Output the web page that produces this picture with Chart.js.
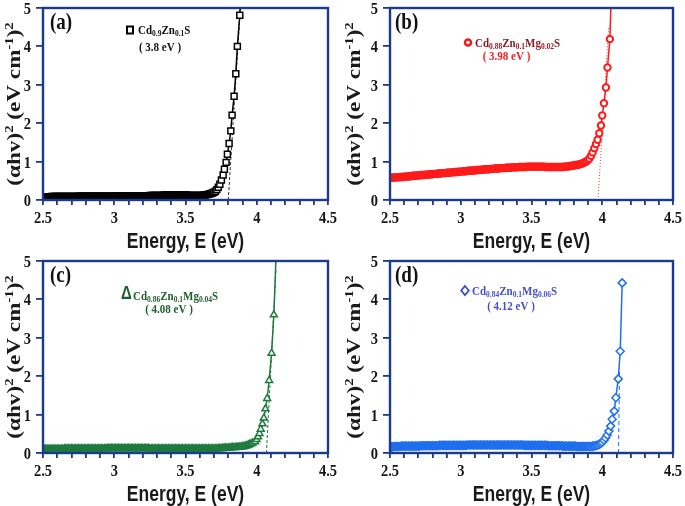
<!DOCTYPE html>
<html><head><meta charset="utf-8">
<script src="https://cdn.jsdelivr.net/npm/chart.js@4.4.0/dist/chart.umd.min.js"></script>
<style>
html,body{margin:0;padding:0;background:#fff;width:685px;height:506px;overflow:hidden}
canvas{position:absolute;background:#fff}
</style></head><body>
<canvas id="ca" width="340" height="253" style="left:0;top:0"></canvas>
<canvas id="cb" width="345" height="253" style="left:340px;top:0"></canvas>
<canvas id="cc" width="340" height="253" style="left:0;top:253px"></canvas>
<canvas id="cd" width="345" height="253" style="left:340px;top:253px"></canvas>
<script>
// ---------------- data ----------------
const xTickVals = [2.5, 3, 3.5, 4, 4.5];
const xTickText = ['2.5', '3', '3.5', '4', '4.5'];
const yTickVals = [0, 1, 2, 3, 4, 5];
const yTickText = ['0', '1', '2', '3', '4', '5'];

// shared photon-energy grid for the flat part of each curve (eV)
const gridE = [
 2.50,2.51,2.52,2.53,2.54,2.55,2.56,2.57,2.58,2.59,
 2.60,2.61,2.62,2.63,2.64,2.65,2.66,2.67,2.68,2.69,
 2.70,2.71,2.72,2.73,2.74,2.75,2.76,2.77,2.78,2.79,
 2.80,2.81,2.82,2.83,2.84,2.85,2.86,2.87,2.88,2.89,
 2.90,2.91,2.92,2.93,2.94,2.95,2.96,2.97,2.98,2.99,
 3.00,3.01,3.02,3.03,3.04,3.05,3.06,3.07,3.08,3.09,
 3.10,3.11,3.12,3.13,3.14,3.15,3.16,3.17,3.18,3.19,
 3.20,3.21,3.22,3.23,3.24,3.25,3.26,3.27,3.28,3.29,
 3.30,3.31,3.32,3.33,3.34,3.35,3.36,3.37,3.38,3.39,
 3.40,3.41,3.42,3.43,3.44,3.45,3.46,3.47,3.48,3.49,
 3.50,3.51,3.52,3.53,3.54,3.55,3.56,3.57,3.58,3.59,
 3.60,3.61,3.62,3.63,3.64,3.65,3.66,3.67,3.68,3.69,
 3.70,3.71,3.72,3.73,3.74,3.75,3.76,3.77,3.78,3.79,
 3.80,3.81,3.82,3.83,3.84,3.85,3.86,3.87,3.88,3.89];

// (a) Cd0.9Zn0.1S
const aFlatY = [
 0.08,0.08,0.08,0.08,0.08,0.08,0.09,0.09,0.09,0.09,
 0.09,0.09,0.09,0.09,0.09,0.09,0.09,0.09,0.09,0.09,
 0.09,0.09,0.09,0.09,0.09,0.10,0.10,0.10,0.10,0.10,
 0.10,0.10,0.10,0.10,0.10,0.10,0.10,0.10,0.10,0.10,
 0.10,0.10,0.10,0.10,0.10,0.10,0.10,0.10,0.10,0.10,
 0.10,0.10,0.10,0.10,0.10,0.11,0.11,0.11,0.11,0.11,
 0.11,0.11,0.11,0.11,0.11,0.11,0.11,0.11,0.11,0.11,
 0.11,0.11,0.11,0.11,0.11,0.12,0.12,0.12,0.12,0.12,
 0.12,0.12,0.12,0.12,0.12,0.13,0.13,0.13,0.13,0.13,
 0.13,0.13,0.13,0.13,0.13,0.13,0.13,0.13,0.13,0.13,
 0.13,0.13,0.12,0.12,0.12,0.12,0.12,0.12,0.12,0.12,
 0.12,0.12,0.12,0.13,0.13,0.14,0.15,0.16,0.17,0.18];
const aEdgeE = [3.70,3.71,3.72,3.73,3.741,3.752,3.764,3.773,3.785,3.794,3.806,3.818,3.827,3.841,3.853,3.864,3.881,3.895];
const aEdgeY = [0.20,0.23,0.27,0.33,0.41,0.52,0.65,0.80,0.98,1.19,1.47,1.80,2.21,2.70,3.29,4.00,4.81,5.90];
const aTanE = [3.80, 3.885];
const aTanY = [0, 5];

// (b) Cd0.88Zn0.1Mg0.02S
const bFlatY = [
 0.58,0.58,0.58,0.59,0.59,0.59,0.59,0.60,0.60,0.60,
 0.61,0.61,0.61,0.62,0.62,0.62,0.63,0.63,0.63,0.64,
 0.64,0.64,0.65,0.65,0.65,0.66,0.66,0.66,0.67,0.67,
 0.67,0.68,0.68,0.68,0.69,0.69,0.69,0.70,0.70,0.70,
 0.71,0.71,0.71,0.72,0.72,0.72,0.73,0.73,0.73,0.74,
 0.74,0.74,0.75,0.75,0.75,0.76,0.76,0.76,0.77,0.77,
 0.77,0.78,0.78,0.78,0.79,0.79,0.79,0.80,0.80,0.80,
 0.80,0.81,0.81,0.81,0.82,0.82,0.82,0.82,0.83,0.83,
 0.83,0.83,0.84,0.84,0.84,0.84,0.85,0.85,0.85,0.85,
 0.85,0.86,0.86,0.86,0.86,0.86,0.86,0.87,0.87,0.87,
 0.87,0.87,0.87,0.87,0.87,0.87,0.87,0.87,0.87,0.87,
 0.86,0.86,0.86,0.86,0.86,0.86,0.86,0.86,0.86,0.86,
 0.86,0.86,0.86,0.87,0.87,0.87,0.88,0.88,0.89,0.89,
 0.90,0.91,0.91,0.92,0.93,0.94,0.95,0.97,0.99,1.01];
const bEdgeE = [3.90,3.909,3.921,3.932,3.944,3.956,3.967,3.979,3.991,4.000,4.012,4.026,4.037,4.054,4.066];
const bEdgeY = [1.04,1.08,1.15,1.24,1.35,1.46,1.57,1.74,1.94,2.20,2.52,2.93,3.45,4.19,5.60];
const bTanE = [3.97, 4.045];
const bTanY = [0, 4.5];

// (c) Cd0.86Zn0.1Mg0.04S
const cFlatY = [
 0.10,0.10,0.10,0.10,0.10,0.10,0.10,0.10,0.10,0.10,
 0.10,0.10,0.10,0.10,0.10,0.11,0.11,0.11,0.11,0.11,
 0.11,0.11,0.11,0.11,0.11,0.11,0.11,0.11,0.11,0.11,
 0.11,0.11,0.11,0.11,0.11,0.11,0.11,0.11,0.11,0.11,
 0.11,0.11,0.11,0.11,0.11,0.12,0.12,0.12,0.12,0.12,
 0.12,0.12,0.12,0.12,0.12,0.12,0.12,0.12,0.12,0.12,
 0.12,0.12,0.12,0.12,0.12,0.12,0.12,0.12,0.12,0.12,
 0.12,0.12,0.12,0.12,0.12,0.11,0.11,0.11,0.11,0.11,
 0.11,0.11,0.11,0.11,0.11,0.11,0.11,0.11,0.11,0.11,
 0.11,0.11,0.11,0.11,0.11,0.11,0.11,0.11,0.11,0.11,
 0.11,0.11,0.11,0.11,0.11,0.11,0.11,0.11,0.11,0.11,
 0.11,0.11,0.11,0.11,0.11,0.11,0.11,0.11,0.11,0.11,
 0.11,0.11,0.11,0.12,0.12,0.12,0.12,0.13,0.13,0.13,
 0.13,0.13,0.14,0.14,0.14,0.14,0.15,0.15,0.15,0.16];
const cEdgeE = [3.90,3.91,3.92,3.93,3.94,3.95,3.96,3.97,3.988,3.998,4.009,4.019,4.028,4.040,4.050,4.061,4.073,4.087,4.104,4.120,4.140];
const cEdgeY = [0.16,0.17,0.18,0.19,0.21,0.22,0.24,0.26,0.29,0.35,0.42,0.51,0.62,0.76,0.91,1.15,1.42,1.89,2.60,3.60,5.60];
const cTanE = [4.068, 4.135];
const cTanY = [0, 4.8];

// (d) Cd0.84Zn0.1Mg0.06S
const dFlatY = [
 0.16,0.16,0.16,0.17,0.17,0.17,0.17,0.17,0.18,0.18,
 0.18,0.18,0.18,0.18,0.18,0.18,0.18,0.18,0.18,0.18,
 0.18,0.18,0.19,0.19,0.19,0.19,0.19,0.19,0.19,0.19,
 0.19,0.19,0.19,0.19,0.19,0.20,0.20,0.20,0.20,0.20,
 0.20,0.20,0.20,0.20,0.20,0.20,0.20,0.20,0.20,0.20,
 0.20,0.20,0.20,0.20,0.20,0.21,0.21,0.21,0.21,0.21,
 0.21,0.21,0.21,0.21,0.21,0.21,0.21,0.21,0.21,0.21,
 0.21,0.21,0.21,0.21,0.21,0.21,0.21,0.21,0.21,0.21,
 0.21,0.21,0.21,0.21,0.21,0.21,0.21,0.21,0.21,0.21,
 0.21,0.21,0.21,0.21,0.21,0.20,0.20,0.20,0.20,0.20,
 0.20,0.20,0.20,0.20,0.20,0.20,0.20,0.20,0.20,0.20,
 0.20,0.20,0.19,0.19,0.19,0.19,0.19,0.19,0.19,0.19,
 0.19,0.19,0.18,0.18,0.18,0.18,0.18,0.18,0.18,0.18,
 0.18,0.18,0.17,0.17,0.17,0.17,0.17,0.17,0.17,0.17];
const dEdgeE = [3.90,3.91,3.92,3.93,3.94,3.95,3.96,3.97,3.98,3.99,4.000,4.012,4.023,4.035,4.047,4.059,4.070,4.085,4.096,4.113,4.127,4.141];
const dEdgeY = [0.17,0.17,0.17,0.18,0.18,0.19,0.20,0.21,0.23,0.25,0.28,0.33,0.39,0.47,0.57,0.70,0.88,1.09,1.44,1.93,2.65,4.43];
const dTanE = [4.115, 4.122];
const dTanY = [0, 2.2];

// ---------------- styling ----------------
const NAVY = '#1b3a8a';
const K = 1.22; // vertical stretch of lettering
const SERIF = '"Liberation Serif", "Times New Roman", serif';
const SANS = '"Liberation Sans", Arial, sans-serif';

function pts(E, Y) { return E.map((e, i) => ({x: e, y: Y[i]})); }

function richWidth(ctx, parts, size, small) {
  let w = 0;
  for (const [t, k] of parts) { ctx.font = 'bold ' + (k ? small : size) + 'px ' + SERIF; w += ctx.measureText(t).width; }
  return w;
}
function drawRich(ctx, parts, x, y, size, small, color, align, dSub, dSup) {
  const w = richWidth(ctx, parts, size, small);
  let cx = align === 'center' ? x - w / 2 : (align === 'right' ? x - w : x);
  ctx.fillStyle = color; ctx.textAlign = 'left'; ctx.textBaseline = 'alphabetic';
  for (const [t, k] of parts) {
    ctx.font = 'bold ' + (k ? small : size) + 'px ' + SERIF;
    const dy = k === 1 ? dSub : (k === 2 ? -dSup : 0);
    ctx.fillText(t, cx, y + dy);
    cx += ctx.measureText(t).width;
  }
}
function stretchText(ctx, s, x, y, font, color, align) {
  ctx.save(); ctx.translate(x, y); ctx.scale(1, K);
  ctx.font = font; ctx.fillStyle = color; ctx.textAlign = align; ctx.textBaseline = 'alphabetic';
  ctx.fillText(s, 0, 0); ctx.restore();
}

const yTitleParts = [['(\u03b1hv)', 0], ['2', 2], [' (eV cm', 0], ['-1', 2], [')', 0], ['2', 2]];

const panels = [
  { id: 'ca', left: 43, right: 12, E: gridE.slice(0, aFlatY.length).concat(aEdgeE), Y: aFlatY.concat(aEdgeY), nFlat: aFlatY.length, solidBand: true,
    tE: aTanE, tY: aTanY, color: '#000000', style: 'rect', radius: 4.2, bw: 1.5, dash: [3, 2], tColor: '#333333',
    letter: '(a)', letterX: 50, titleX: 13,
    formula: [['Cd', 0], ['0.9', 1], ['Zn', 0], ['0.1', 1], ['S', 0]], fX: 138, fY: 33.5, fColor: '#111111',
    ev: '( 3.8 eV )', evX: 160, evY: 50.5, evColor: '#111111',
    mark: 'square', mX: 130, mY: 30, mColor: '#000000' },
  { id: 'cb', left: 50, right: 12, E: gridE.slice(0, bFlatY.length).concat(bEdgeE), Y: bFlatY.concat(bEdgeY), nFlat: bFlatY.length, solidBand: false,
    tE: bTanE, tY: bTanY, color: '#ff1a1a', style: 'circle', radius: 3.2, bw: 2, dash: [1, 2], tColor: '#ff3030',
    letter: '(b)', letterX: 55, titleX: 13,
    formula: [['Cd', 0], ['0.88', 1], ['Zn', 0], ['0.1', 1], ['Mg', 0], ['0.02', 1], ['S', 0]], fX: 135, fY: 46.5, fColor: '#8a1e28',
    ev: '( 3.98 eV )', evX: 166.5, evY: 59.5, evColor: '#ee2222',
    mark: 'circle', mX: 128, mY: 42.5, mColor: '#ee1c1c' },
  { id: 'cc', left: 43, right: 12, E: gridE.slice(0, cFlatY.length).concat(cEdgeE), Y: cFlatY.concat(cEdgeY), nFlat: cFlatY.length, solidBand: true,
    tE: cTanE, tY: cTanY, color: '#1f7a3e', style: 'triangle', radius: 4, bw: 1.5, dash: [3, 2], tColor: '#1f7a3e',
    letter: '(c)', letterX: 50, titleX: 13,
    formula: [['Cd', 0], ['0.86', 1], ['Zn', 0], ['0.1', 1], ['Mg', 0], ['0.04', 1], ['S', 0]], fX: 133, fY: 46.5, fColor: '#1f5e2c',
    ev: '( 4.08 eV )', evX: 169, evY: 59.5, evColor: '#1f5e2c',
    mark: 'delta', mX: 126.5, mY: 46, mColor: '#1f5e2c' },
  { id: 'cd', left: 50, right: 12, E: gridE.slice(0, dFlatY.length).concat(dEdgeE), Y: dFlatY.concat(dEdgeY), nFlat: dFlatY.length, solidBand: true,
    tE: dTanE, tY: dTanY, color: '#1f6fee', style: 'rectRot', radius: 4, bw: 1.5, dash: [4, 3], tColor: '#1f6fee',
    letter: '(d)', letterX: 55, titleX: 13,
    formula: [['Cd', 0], ['0.84', 1], ['Zn', 0], ['0.1', 1], ['Mg', 0], ['0.06', 1], ['S', 0]], fX: 132, fY: 41.5, fColor: '#4650c4',
    ev: '( 4.12 eV )', evX: 171, evY: 56.5, evColor: '#4650c4',
    mark: 'diamond', mX: 125, mY: 37.5, mColor: '#3a4cc8' }
];

const decorPlugin = {
  id: 'decor',
  afterDatasetsDraw(chart) {
    const p = chart.options.plugins.decor;
    const ctx = chart.ctx, a = chart.chartArea, xs = chart.scales.x, ys = chart.scales.y;
    ctx.save();
    // frame
    ctx.strokeStyle = NAVY; ctx.lineWidth = 2.4;
    ctx.strokeRect(a.left, a.top, a.right - a.left, a.bottom - a.top);
    // tick labels
    xTickVals.forEach((v, i) => stretchText(ctx, xTickText[i], xs.getPixelForValue(v), 222.5, 'bold 14.5px ' + SERIF, '#161616', 'center'));
    yTickVals.forEach((v, i) => stretchText(ctx, yTickText[i], a.left - 12, ys.getPixelForValue(v) + 5.9, 'bold 14.5px ' + SERIF, '#161616', 'right'));
    // x title
    stretchText(ctx, 'Energy, E (eV)', (a.left + a.right) / 2, 248, 'bold 17.5px ' + SANS, '#1a1a1a', 'center');
    // y title (rotated)
    ctx.save();
    ctx.translate(p.titleX, (a.top + a.bottom) / 2);
    ctx.scale(1, K);
    ctx.rotate(-Math.PI / 2);
    drawRich(ctx, yTitleParts, 0, 6.5, 19, 12, '#1a1a1a', 'center', 0, 7);
    ctx.restore();
    // panel letter
    stretchText(ctx, p.letter, p.letterX, 28.5, 'bold 19px ' + SERIF, '#111111', 'left');
    // formula + band gap
    ctx.save(); ctx.translate(p.fX, p.fY); ctx.scale(1, K);
    drawRich(ctx, p.formula, 0, 0, 11, 7.5, p.fColor, 'left', 2, 0);
    ctx.restore();
    stretchText(ctx, p.ev, p.evX, p.evY, 'bold 11px ' + SERIF, p.evColor, 'center');
    // legend marker
    ctx.strokeStyle = p.mColor; ctx.fillStyle = '#fff';
    if (p.mark === 'square') { ctx.lineWidth = 2; ctx.strokeRect(p.mX - 3, p.mY - 3.5, 6, 7); }
    else if (p.mark === 'circle') { ctx.lineWidth = 2.5; ctx.beginPath(); ctx.arc(p.mX, p.mY, 3, 0, Math.PI * 2); ctx.stroke(); }
    else if (p.mark === 'diamond') { ctx.lineWidth = 1.8; ctx.beginPath(); ctx.moveTo(p.mX, p.mY - 4.5); ctx.lineTo(p.mX + 3.8, p.mY); ctx.lineTo(p.mX, p.mY + 4.5); ctx.lineTo(p.mX - 3.8, p.mY); ctx.closePath(); ctx.stroke(); }
    else if (p.mark === 'delta') { stretchText(ctx, '\u0394', p.mX, p.mY, 'bold 15px ' + SANS, p.mColor, 'center'); }
    ctx.restore();
  }
};

panels.forEach(p => {
  const canvas = document.getElementById(p.id);
  new Chart(canvas.getContext('2d'), {
    type: 'scatter',
    data: {
      datasets: [
        { data: pts(p.E, p.Y), showLine: true, borderColor: p.color, borderWidth: 1.5,
          pointStyle: p.style, pointRadius: p.radius, pointBorderWidth: p.bw,
          pointBorderColor: p.color,
          pointBackgroundColor: c => (p.solidBand && c.dataIndex < p.nFlat) ? p.color : '#ffffff',
          tension: 0 },
        { data: pts(p.tE, p.tY), showLine: true, borderColor: p.tColor, borderWidth: 1,
          borderDash: p.dash, pointRadius: 0, tension: 0 }
      ]
    },
    options: {
      responsive: false, animation: false, devicePixelRatio: 1,
      layout: { padding: { left: 0, right: p.right, top: 8, bottom: 0 } },
      plugins: { legend: { display: false }, tooltip: { enabled: false }, decor: p },
      scales: {
        x: { type: 'linear', min: 2.5, max: 4.5,
             ticks: { stepSize: 0.1, autoSkip: false, display: false },
             grid: { drawOnChartArea: false, drawTicks: true, tickLength: 5, color: NAVY, lineWidth: 1.8 },
             border: { display: false },
             afterFit: s => { s.height = 53; } },
        y: { type: 'linear', min: 0, max: 5,
             ticks: { stepSize: 1, display: false },
             grid: { drawOnChartArea: false, drawTicks: true, tickLength: 7, color: NAVY, lineWidth: 1.8 },
             border: { display: false },
             afterFit: s => { s.width = p.left; } }
      }
    },
    plugins: [decorPlugin]
  });
});
</script></body></html>
